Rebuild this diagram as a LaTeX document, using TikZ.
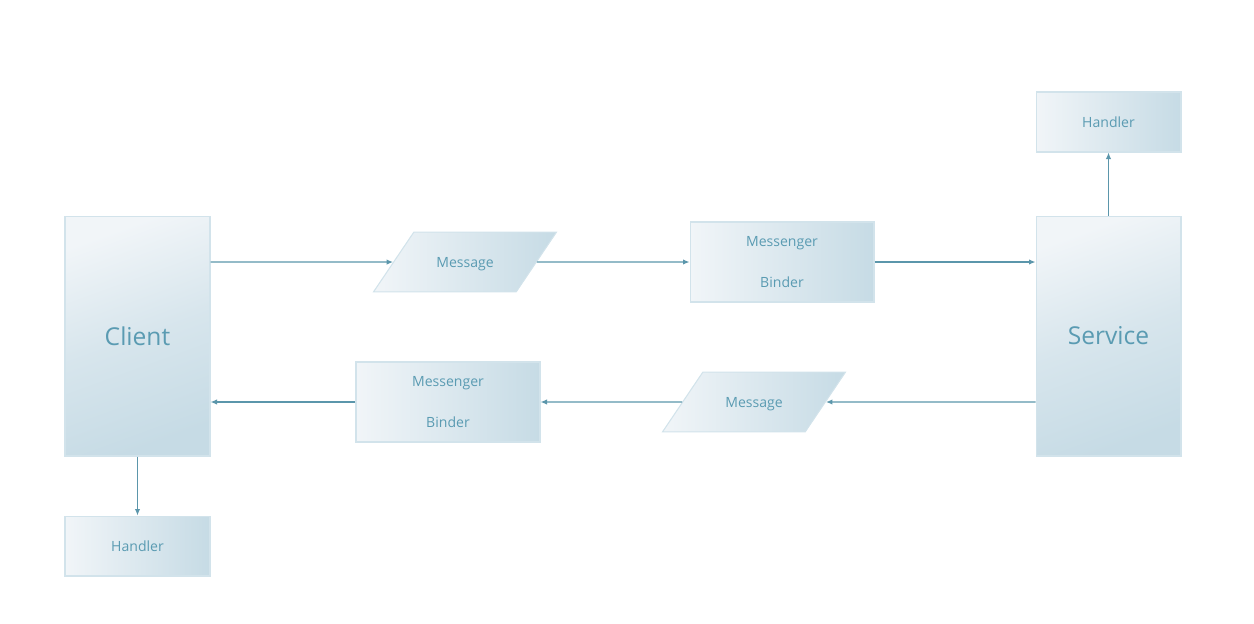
\documentclass[tikz,border=0pt]{standalone}
\usepackage{fontspec}
\setmainfont{Open Sans}
\usepackage{tikz}
\usetikzlibrary{shapes.geometric,arrows.meta,positioning}
\definecolor{claro}{HTML}{F1F5F8}
\definecolor{oscuro}{HTML}{C6DBE5}
\definecolor{borde}{HTML}{D2E3EB}
\definecolor{texto}{HTML}{5A9BB2}
\definecolor{linea}{HTML}{5B96AB}
\tikzset{
    caja/.style={rectangle,draw=borde,line width=0.6pt,text=texto,inner sep=0pt},
    grande/.style={caja,minimum width=2.9cm,minimum height=4.8cm,top color=claro,bottom color=oscuro,middle color=oscuro!60!claro,shading angle=20,font=\fontsize{14}{16}\selectfont},
    chica/.style={caja,minimum width=2.9cm,minimum height=1.2cm,left color=claro,right color=oscuro,font=\fontsize{8}{10}\selectfont},
    binder/.style={caja,minimum width=3.68cm,minimum height=1.6cm,left color=claro,right color=oscuro,align=center,font=\fontsize{8}{10}\selectfont},
    mensaje/.style={trapezium,trapezium left angle=56,trapezium right angle=124,trapezium stretches body,draw=borde,line width=0.6pt,text=texto,inner xsep=0pt,inner ysep=13pt,text height=7pt,text depth=1pt,minimum width=3.66cm,left color=claro,right color=oscuro,font=\fontsize{8}{10}\selectfont},
    flecha/.style={draw=linea,line width=0.7pt,-{Latex[length=1.3mm,width=1.1mm]}},
}
\begin{document}
\begin{tikzpicture}[x=0.02cm,y=-0.02cm]
\useasboundingbox (0,0) rectangle (1254,623);
\node[grande] (client) at (137.5,336) {Client};
\node[chica,below=1.18cm of client] (hclient) {Handler};
\draw[flecha] (client.south)--(hclient.north);

\node[grande] (service) at (1108.5,336) {Service};
\node[chica,above=1.26cm of service] (hservice) {Handler};
\draw[flecha] (service.north)--(hservice.south);

\node[mensaje] (msg1) at (465,262) {Message};
\node[binder] (binder1) at (782,262) {Messenger\\[13pt]Binder};
\draw[flecha] (client.east|-msg1)--(msg1);
\draw[flecha] (msg1)--(binder1);
\draw[flecha] (binder1)--(binder1-|service.west);

\node[mensaje] (msg2) at (754,402) {Message};
\node[binder] (binder2) at (448,402) {Messenger\\[13pt]Binder};
\draw[flecha] (service.west|-msg2)--(msg2);
\draw[flecha] (msg2)--(binder2);
\draw[flecha] (binder2)--(binder2-|client.east);
\end{tikzpicture}
\end{document}
